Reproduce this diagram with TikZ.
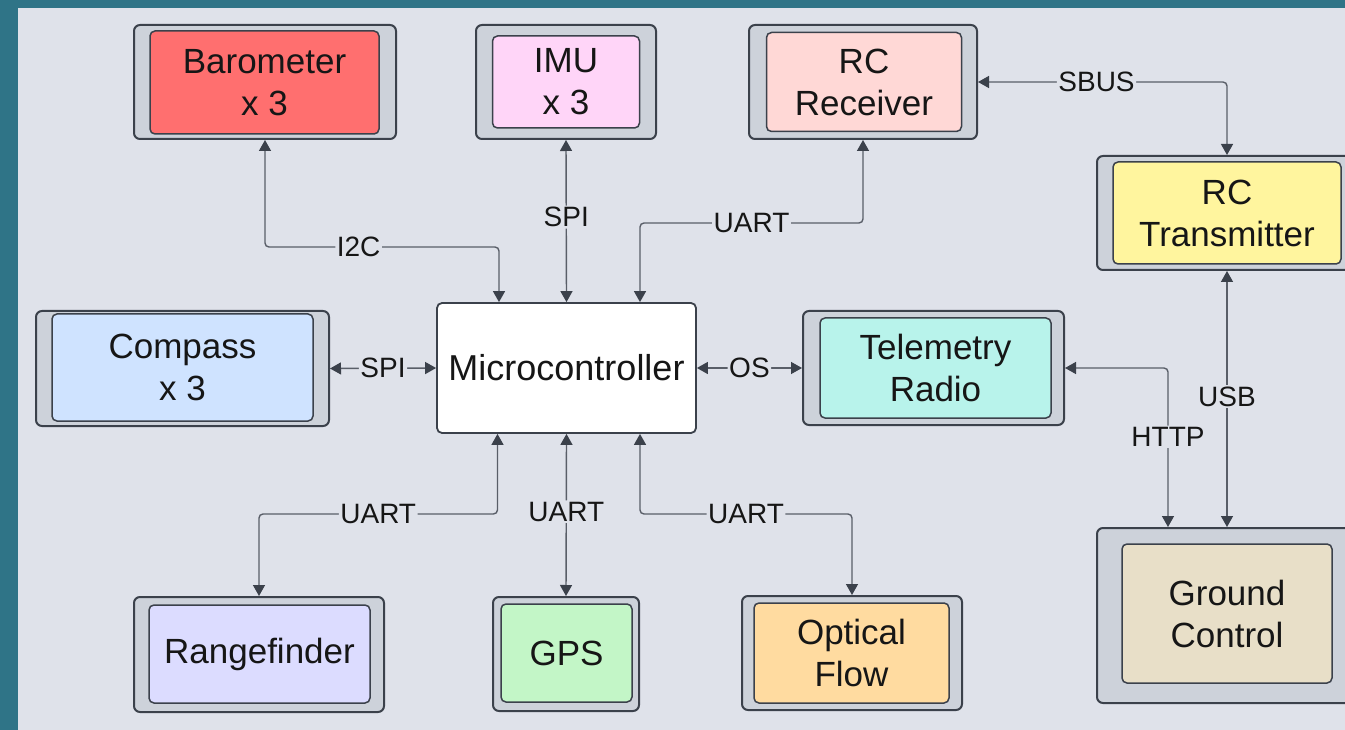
\documentclass[tikz,border=0pt]{standalone}
\usepackage{fontspec}
\setmainfont{Liberation Sans}
\usetikzlibrary{arrows.meta,calc}
\definecolor{teal0}{HTML}{2F7487}
\definecolor{panel}{HTML}{DFE2EA}
\definecolor{outerfill}{HTML}{CDD2DA}
\definecolor{edge}{HTML}{3B414B}
\definecolor{wire}{HTML}{595E68}
\definecolor{txt}{HTML}{161616}
\definecolor{cbaro}{HTML}{FF6F6F}
\definecolor{cimu}{HTML}{FFD5F8}
\definecolor{crcr}{HTML}{FFD8D6}
\definecolor{crct}{HTML}{FFF59E}
\definecolor{ccomp}{HTML}{CFE3FF}
\definecolor{ctele}{HTML}{B8F3EB}
\definecolor{crange}{HTML}{DCDCFF}
\definecolor{cgps}{HTML}{C3F6C7}
\definecolor{copt}{HTML}{FFDBA0}
\definecolor{cgc}{HTML}{E8DFC8}
\tikzset{
  outerbox/.style={draw=edge, line width=2pt, fill=outerfill, rounded corners=6pt, inner sep=0pt},
  innerbox/.style={draw=edge, line width=1.5pt, rounded corners=5pt, inner sep=0pt, align=center,
    font=\fontsize{35}{42}\selectfont, text=txt},
  mcubox/.style={draw=edge, line width=1.8pt, fill=white, rounded corners=5pt, inner sep=0pt,
    font=\fontsize{36}{42}\selectfont, text=txt},
  link/.style={draw=wire, line width=1.4pt, rounded corners=4pt,
    {Triangle[length=11pt,width=12pt,color=edge]}-{Triangle[length=11pt,width=12pt,color=edge]}},
  lbl/.style={fill=panel, inner sep=1.5pt, font=\fontsize{28}{30}\selectfont, text=txt},
}
\begin{document}
\begin{tikzpicture}[x=1pt,y=-1pt]
\useasboundingbox (0,0) rectangle (1345,730);
\clip (0,0) rectangle (1345,730);
\fill[teal0] (0,0) rectangle (1345,730);
\fill[panel] (18,8) rectangle (1345,730);

% outer frames
\node[outerbox, minimum width=262pt, minimum height=114pt] (baro) at (265,82) {};
\node[outerbox, minimum width=180pt, minimum height=114pt] (imu) at (566,82) {};
\node[outerbox, minimum width=228pt, minimum height=114pt] (rcr) at (863,82) {};
\node[outerbox, minimum width=260pt, minimum height=114pt] (rct) at (1227,213) {};
\node[outerbox, minimum width=293pt, minimum height=115pt] (comp) at (182.5,368.5) {};
\node[outerbox, minimum width=261pt, minimum height=114pt] (tele) at (933.5,368) {};
\node[outerbox, minimum width=260pt, minimum height=175pt] (gc) at (1227,615.5) {};
\node[outerbox, minimum width=250pt, minimum height=115pt] (range) at (259,654.5) {};
\node[outerbox, minimum width=146pt, minimum height=114pt] (gps) at (566,654) {};
\node[outerbox, minimum width=220pt, minimum height=114pt] (optf) at (852,653) {};

% inner boxes
\node[innerbox, fill=cbaro, minimum width=229pt, minimum height=103pt] (baro-in) at (264.5,82.5) {Barometer\\x 3};
\node[innerbox, fill=cimu, minimum width=147pt, minimum height=92pt] (imu-in) at (566,82) {IMU\\x 3};
\node[innerbox, fill=crcr, minimum width=195pt, minimum height=99pt] (rcr-in) at (864,82) {RC\\Receiver};
\node[innerbox, fill=crct, minimum width=228pt, minimum height=102pt] (rct-in) at (1227,213) {RC\\Transmitter};
\node[innerbox, fill=ccomp, minimum width=261pt, minimum height=107pt] (comp-in) at (182.5,367.5) {Compass\\x 3};
\node[innerbox, fill=ctele, minimum width=231pt, minimum height=100pt] (tele-in) at (935.5,368) {Telemetry\\Radio};
\node[innerbox, fill=cgc, minimum width=210pt, minimum height=139pt] (gc-in) at (1227,613.5) {Ground\\Control};
\node[innerbox, fill=crange, minimum width=221pt, minimum height=98pt] (range-in) at (259.5,654) {Rangefinder};
\node[innerbox, fill=cgps, minimum width=131pt, minimum height=98pt] (gps-in) at (566.5,653) {GPS};
\node[innerbox, fill=copt, minimum width=195pt, minimum height=100pt] (optf-in) at (851.5,653) {Optical\\Flow};

\node[mcubox, minimum width=259pt, minimum height=130pt] (micro) at (566.5,368) {Microcontroller};

% connectors
\draw[link] (baro.south) -- ++(0,107) -| node[lbl, pos=0.2] {I2C} ([xshift=-67.5pt]micro.north);
\draw[link] (imu.south) -- node[lbl, pos=0.476] {SPI} (micro.north);
\draw[link] (rcr.south) -- ++(0,83) -| node[lbl, pos=0.25] {UART} ([xshift=73.5pt]micro.north);
\draw[link] (comp.east) -- node[lbl] {SPI} (micro.west);
\draw[link] (micro.east) -- node[lbl] {OS} (tele.west);
\draw[link] (tele.east) -| node[lbl, pos=0.716] {HTTP} ([xshift=-59pt]gc.north);
\draw[link] (rcr.east) -| node[lbl, pos=0.238] {SBUS} (rct.north);
\draw[link] (rct.south) -- node[lbl, pos=0.49] {USB} (gc.north);
\draw[link] (range.north) -- ++(0,-82) -| node[lbl, pos=0.25] {UART} ([xshift=-69pt]micro.south);
\draw[link] (gps.north) -- node[lbl, pos=0.52] {UART} (micro.south);
\draw[link] (optf.north) -- ++(0,-81) -| node[lbl, pos=0.25] {UART} ([xshift=73.5pt]micro.south);
\end{tikzpicture}
\end{document}
